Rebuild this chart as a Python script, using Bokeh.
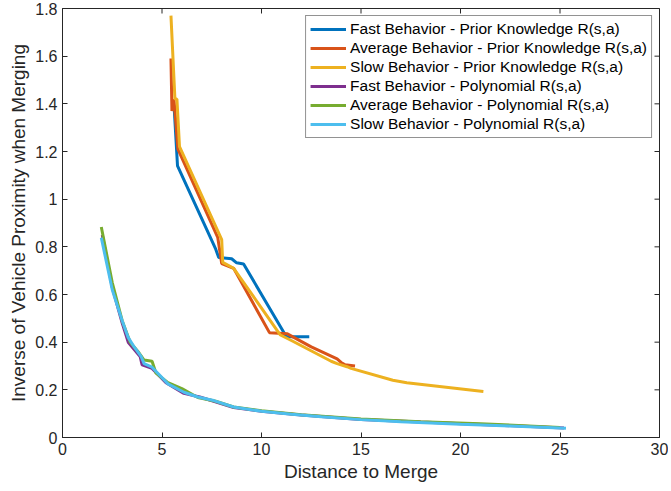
import math
from bokeh.plotting import figure
from bokeh.models import Range1d, FixedTicker, Legend, LegendItem
from bokeh.embed import file_html
from bokeh.resources import INLINE

# ---- data ----
fast_prior_x = [5.55, 5.62, 5.78, 7.7, 7.85, 8.5, 8.75, 9.1, 11.25, 12.4]
fast_prior_y = [1.40, 1.37, 1.14, 0.79, 0.755, 0.75, 0.733, 0.728, 0.423, 0.423]

avg_prior_x = [5.45, 5.5, 5.6, 5.8, 7.8, 8.0, 8.6, 10.4, 11.3, 12.5, 13.8, 14.0, 14.2, 14.7]
avg_prior_y = [1.59, 1.37, 1.42, 1.21, 0.84, 0.73, 0.71, 0.44, 0.435, 0.38, 0.33, 0.315, 0.305, 0.30]

slow_prior_x = [5.45, 5.65, 5.75, 5.88, 8.0, 8.05, 8.6, 10.95, 11.55, 13.5, 13.8, 14.3, 14.5, 16.6, 17.3, 21.15]
slow_prior_y = [1.77, 1.42, 1.42, 1.22, 0.83, 0.735, 0.71, 0.43, 0.405, 0.32, 0.31, 0.297, 0.29, 0.24, 0.23, 0.193]

fast_poly_x = [2.0, 2.5, 3.0, 3.3, 3.9, 4.0, 4.5, 5.2, 6.1, 6.9, 7.6, 8.6, 10, 12, 15, 18, 21, 25.2]
fast_poly_y = [0.85, 0.63, 0.48, 0.40, 0.34, 0.305, 0.29, 0.23, 0.185, 0.17, 0.152, 0.126, 0.11, 0.094, 0.076, 0.065, 0.055, 0.04]

avg_poly_x = [1.95, 2.5, 3.0, 3.4, 3.8, 4.1, 4.5, 4.7, 5.3, 6.0, 6.8, 7.7, 8.6, 10.0, 12, 15, 18, 21, 25.0]
avg_poly_y = [0.883, 0.65, 0.49, 0.40, 0.36, 0.325, 0.32, 0.27, 0.23, 0.205, 0.168, 0.152, 0.128, 0.112, 0.095, 0.078, 0.066, 0.058, 0.042]

slow_poly_x = [1.95, 2.5, 3.0, 3.3, 3.6, 3.95, 4.1, 4.5, 5.3, 6.1, 6.8, 7.6, 8.6, 10.0, 11.5, 13, 15, 17, 20, 22.5, 25.3]
slow_poly_y = [0.838, 0.62, 0.49, 0.42, 0.38, 0.34, 0.31, 0.295, 0.225, 0.19, 0.17, 0.155, 0.128, 0.11, 0.098, 0.087, 0.075, 0.066, 0.056, 0.048, 0.039]

x_ticks = [0, 5, 10, 15, 20, 25, 30]
y_ticks = [0, 0.2, 0.4, 0.6, 0.8, 1.0, 1.2, 1.4, 1.6, 1.8]
y_tick_labels = {0: "0", 0.2: "0.2", 0.4: "0.4", 0.6: "0.6", 0.8: "0.8", 1.0: "1",
                 1.2: "1.2", 1.4: "1.4", 1.6: "1.6", 1.8: "1.8"}
x_min, x_max = 0, 30
y_min, y_max = 0, 1.8

series = [
    ("Fast Behavior - Prior Knowledge R(s,a)", fast_prior_x, fast_prior_y, "#0072BD"),
    ("Average Behavior - Prior Knowledge R(s,a)", avg_prior_x, avg_prior_y, "#D95319"),
    ("Slow Behavior - Prior Knowledge R(s,a)", slow_prior_x, slow_prior_y, "#EDB120"),
    ("Fast Behavior - Polynomial R(s,a)", fast_poly_x, fast_poly_y, "#7E2F8E"),
    ("Average Behavior - Polynomial R(s,a)", avg_poly_x, avg_poly_y, "#77AC30"),
    ("Slow Behavior - Polynomial R(s,a)", slow_poly_x, slow_poly_y, "#4DBEEE"),
]

FONT = "Liberation Sans"
AX = "#262626"

p = figure(width=668, height=489, output_backend="svg", toolbar_location=None,
           x_range=Range1d(x_min, x_max), y_range=Range1d(y_min, y_max),
           min_border_left=62, min_border_right=9, min_border_top=8, min_border_bottom=52)
p.grid.visible = False
p.outline_line_color = AX
p.outline_line_width = 1

items = []
for label, xs, ys, col in series:
    r = p.line(xs, ys, line_color=col, line_width=3)
    items.append(LegendItem(label=label, renderers=[r]))

# inward ticks on the top and right edges of the box (clipped to frame)
p.scatter(x_ticks, [y_max] * len(x_ticks), marker="dash", size=10, angle=math.pi / 2,
          line_color=AX, line_width=1)
p.scatter([x_max] * len(y_ticks), y_ticks, marker="dash", size=10,
          line_color=AX, line_width=1)

def style(ax):
    ax.axis_line_color = AX
    ax.axis_line_width = 1
    ax.major_tick_line_color = AX
    ax.major_tick_in = 5
    ax.major_tick_out = 0
    ax.minor_tick_line_color = None
    ax.major_label_text_font = FONT
    ax.major_label_text_font_size = "16px"
    ax.major_label_text_color = AX
    ax.axis_label_text_font = FONT
    ax.axis_label_text_font_size = "19px"
    ax.axis_label_text_font_style = "normal"
    ax.axis_label_text_color = AX

xa = p.xaxis[0]
xa.ticker = FixedTicker(ticks=x_ticks)
xa.axis_label = "Distance to Merge"
style(xa)
xa.major_label_standoff = 5
xa.axis_label_standoff = 3

ya = p.yaxis[0]
ya.ticker = FixedTicker(ticks=y_ticks)
ya.major_label_overrides = y_tick_labels
ya.axis_label = "Inverse of Vehicle Proximity when Merging"
style(ya)
ya.major_label_standoff = 5
ya.axis_label_standoff = 3

legend = Legend(items=items, location="top_right")
legend.label_text_font = FONT
legend.label_text_font_size = "15.5px"
legend.label_text_color = "#000000"
legend.border_line_color = AX
legend.border_line_width = 1
legend.background_fill_color = "white"
legend.background_fill_alpha = 1
legend.glyph_width = 36
legend.glyph_height = 18
legend.label_height = 18
legend.spacing = 1
legend.label_standoff = 4
legend.padding = 4
legend.margin = 7
p.add_layout(legend)

open("out.html", "w").write(file_html(p, INLINE))
